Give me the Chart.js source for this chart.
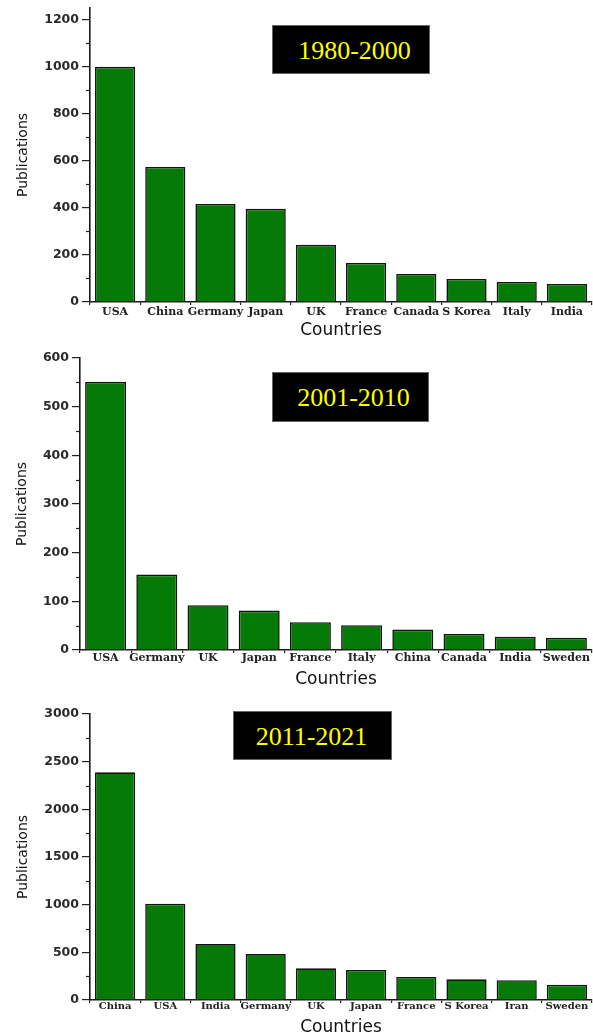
<!DOCTYPE html>
<html><head><meta charset="utf-8">
<script src="https://cdn.jsdelivr.net/npm/chart.js@4.4.1/dist/chart.umd.min.js"></script>
<style>
html,body{margin:0;padding:0;background:#fff;}
body{width:593px;height:1036px;position:relative;overflow:hidden;}
.wrap{position:absolute;left:0;width:593px;}
canvas{display:block;}
.tag{position:absolute;background:#000;color:#ffff00;font-family:"Liberation Serif","Times New Roman",serif;font-size:26px;line-height:1;display:flex;align-items:center;justify-content:center;box-sizing:border-box;border:1px solid #666;z-index:2;}
</style></head><body>
<div class="wrap" style="top:0;height:340px"><canvas id="c1" width="593" height="340"></canvas></div>
<div class="wrap" style="top:340px;height:350px"><canvas id="c2" width="593" height="350"></canvas></div>
<div class="wrap" style="top:690px;height:346px"><canvas id="c3" width="593" height="346"></canvas></div>
<div class="tag" id="t1" style="left:272px;top:25px;width:158px;height:49px;padding-left:7px;padding-top:2px"></div>
<div class="tag" id="t2" style="left:272px;top:372px;width:157px;height:50px;padding-left:6px;padding-top:2px"></div>
<div class="tag" id="t3" style="left:233px;top:711px;width:159px;height:49px;padding-right:2px;padding-top:3px"></div>
<script>
// ---- data ----
const periods = ['1980-2000', '2001-2010', '2011-2021'];

const countries1 = ['USA','China','Germany','Japan','UK','France','Canada','S Korea','Italy','India'];
const pubs1 = [1000, 574, 417, 396, 243, 166, 119, 98, 85, 77];
const yTicks1 = [0, 200, 400, 600, 800, 1000, 1200];
const yMinor1 = [100, 300, 500, 700, 900, 1100];

const countries2 = ['USA','Germany','UK','Japan','France','Italy','China','Canada','India','Sweden'];
const pubs2 = [551, 155, 92, 81, 57, 51, 42, 33, 27, 25];
const yTicks2 = [0, 100, 200, 300, 400, 500, 600];
const yMinor2 = [50, 150, 250, 350, 450, 550];

const countries3 = ['China','USA','India','Germany','UK','Japan','France','S Korea','Iran','Sweden'];
const pubs3 = [2388, 1010, 587, 482, 332, 315, 241, 217, 207, 161];
const yTicks3 = [0, 500, 1000, 1500, 2000, 2500, 3000];
const yMinor3 = [250, 750, 1250, 1750, 2250, 2750];

const xTitle = 'Countries';
const yTitle = 'Publications';

document.getElementById('t1').textContent = periods[0];
document.getElementById('t2').textContent = periods[1];
document.getElementById('t3').textContent = periods[2];

const minorTickPlugin = {
  id: 'minorTicks',
  afterDraw(chart, args, opts) {
    const y = chart.scales.y, ctx = chart.ctx;
    ctx.save();
    ctx.strokeStyle = '#222';
    ctx.lineWidth = 1.2;
    (opts.values || []).forEach(v => {
      const py = Math.round(y.getPixelForValue(v)) + 0.5;
      ctx.beginPath();
      ctx.moveTo(y.right - 4, py);
      ctx.lineTo(y.right, py);
      ctx.stroke();
    });
    ctx.restore();
  }
};

function makeChart(id, labels, values, ticks, minor, cfg) {
  return new Chart(document.getElementById(id), {
    type: 'bar',
    data: {
      labels: labels,
      datasets: [{
        data: values,
        backgroundColor: '#067a06',
        borderColor: '#0c160c',
        borderWidth: 1.6,
        barPercentage: 0.8,
        categoryPercentage: 1
      }]
    },
    options: {
      responsive: false,
      animation: false,
      layout: { padding: { top: cfg.top, right: 1, left: 0, bottom: 0 } },
      plugins: { legend: { display: false }, tooltip: { enabled: false }, minorTicks: { values: minor } },
      scales: {
        x: {
          grid: { display: true, drawOnChartArea: false, drawTicks: true, tickLength: 3, color: '#222', lineWidth: 1.2, offset: true },
          border: { display: true, color: '#1a1a1a', width: 1.6 },
          ticks: { font: { family: '"DejaVu Serif"', weight: 'bold', size: cfg.xfs, lineHeight: 1 }, color: '#222', padding: cfg.xpad, maxRotation: 0, autoSkip: false },
          title: { display: true, text: xTitle, font: { family: '"DejaVu Sans"', size: 17, lineHeight: 1 }, color: '#111', padding: { top: 0, bottom: cfg.tpad } },
          afterFit(s) { s.height = cfg.xh; s.paddingLeft = 0; s.paddingRight = 0; }
        },
        y: {
          min: 0,
          max: cfg.max,
          afterBuildTicks(s) { s.ticks = ticks.map(v => ({ value: v })); },
          grid: { drawOnChartArea: false, drawTicks: true, tickLength: 8, color: '#222', lineWidth: 1.2 },
          border: { display: true, color: '#1a1a1a', width: 1.6 },
          ticks: { font: { family: '"DejaVu Sans"', weight: 'bold', size: 12.5 }, color: '#2a2a2a', padding: 3, callback: v => String(v) },
          title: { display: true, text: yTitle, font: { family: '"DejaVu Sans"', size: 14 }, color: '#111', padding: { top: cfg.ytpad, bottom: 0 } },
          afterFit(s) { s.width = cfg.yw; s.paddingTop = 0; s.paddingBottom = 0; }
        }
      }
    },
    plugins: [minorTickPlugin]
  });
}

makeChart('c1', countries1, pubs1, yTicks1, yMinor1, { top: 8, max: 1250, yw: 90, xh: 38, xfs: 11, xpad: 1.5, tpad: 0.5, ytpad: 15 });
makeChart('c2', countries2, pubs2, yTicks2, yMinor2, { top: 18, max: 600, yw: 80, xh: 40, xfs: 11, xpad: 0, tpad: 1.5, ytpad: 14 });
makeChart('c3', countries3, pubs3, yTicks3, yMinor3, { top: 24, max: 3000, yw: 90, xh: 36, xfs: 10, xpad: -1.5, tpad: 0, ytpad: 15 });
</script>
</body></html>
